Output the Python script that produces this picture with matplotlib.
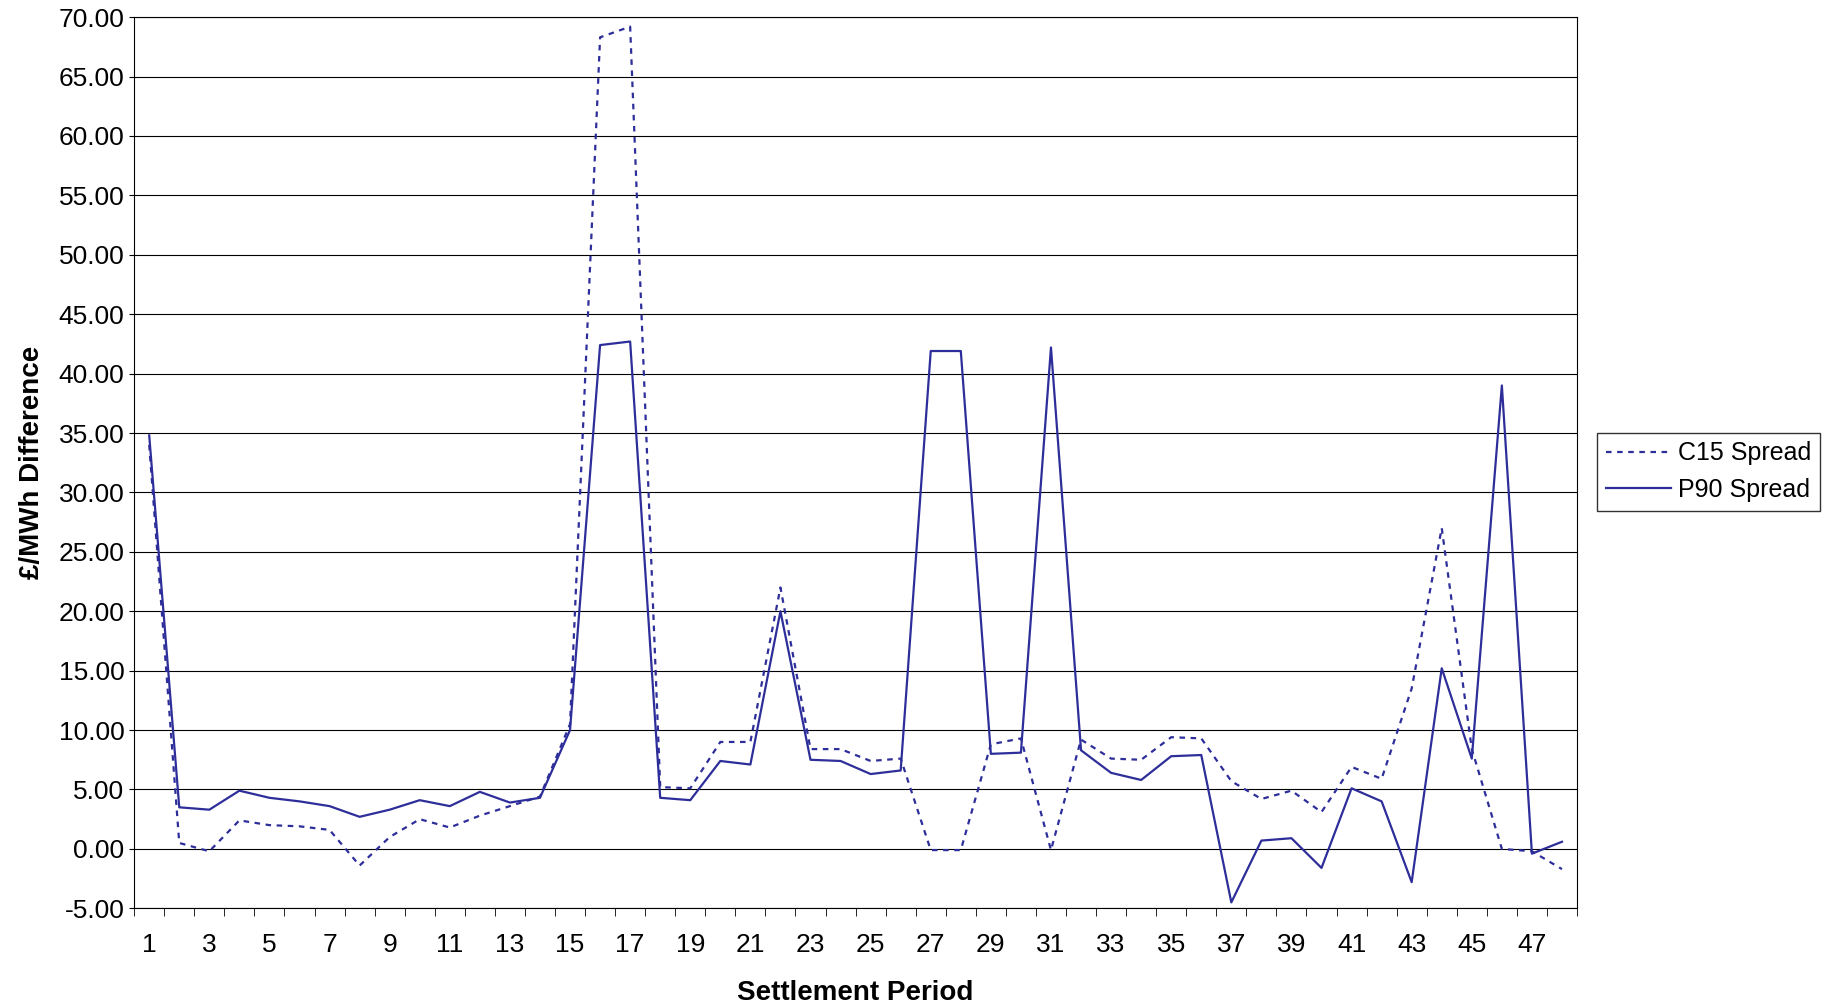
import matplotlib
matplotlib.use("Agg")
import matplotlib.pyplot as plt
import numpy as np

periods = list(range(1, 49))
c15 = [34.0, 0.5, -0.2, 2.4, 2.0, 1.9, 1.6, -1.4, 1.0, 2.5, 1.8, 2.8, 3.6, 4.4, 10.5, 68.3, 69.2, 5.2, 5.1, 9.0,
       9.0, 22.0, 8.4, 8.4, 7.4, 7.6, -0.1, -0.1, 8.8, 9.3, -0.1, 9.2, 7.6, 7.5, 9.4, 9.3, 5.7, 4.2, 4.9, 3.1,
       6.9, 5.9, 13.5, 27.0, 8.4, 0.0, -0.2, -1.7]
p90 = [34.8, 3.5, 3.3, 4.9, 4.3, 4.0, 3.6, 2.7, 3.3, 4.1, 3.6, 4.8, 3.9, 4.3, 10.0, 42.4, 42.7, 4.3, 4.1, 7.4,
       7.1, 20.0, 7.5, 7.4, 6.3, 6.6, 41.9, 41.9, 8.0, 8.1, 42.2, 8.3, 6.4, 5.8, 7.8, 7.9, -4.5, 0.7, 0.9, -1.6,
       5.1, 4.0, -2.8, 15.2, 7.6, 39.0, -0.4, 0.6]

col = "#2E2E9A"
F = "Liberation Sans"
fig = plt.figure(figsize=(18.38, 10.07), dpi=100)
ax = fig.add_axes([0.073, 0.098, 0.785, 0.885])
ax.plot(periods, c15, color=col, lw=1.6, ls=(0, (2.5, 2.5)), label="C15 Spread")
ax.plot(periods, p90, color=col, lw=1.6, label="P90 Spread")
ax.set_xlim(0.5, 48.5)
ax.set_ylim(-5, 70)
ax.set_yticks(np.arange(-5, 70.1, 5))
ax.set_yticklabels([f"{v:.2f}" for v in np.arange(-5, 70.1, 5)], fontsize=19, family=F)
ax.set_xticks(range(1, 49))
ax.set_xticklabels([str(p) if p % 2 == 1 else "" for p in periods], fontsize=19, family=F)
ax.set_xticks(np.arange(0.5, 49, 1), minor=True)
ax.tick_params(axis="x", which="major", length=0, pad=18)
ax.tick_params(axis="x", which="minor", length=6)
ax.grid(axis="y", color="black", lw=0.8)
for s in ax.spines.values():
    s.set_linewidth(0.8)
ax.set_xlabel("Settlement Period", fontsize=20, fontweight="bold", family=F, labelpad=16)
ax.set_ylabel("£/MWh Difference", fontsize=20, fontweight="bold", family=F, labelpad=10)
ax.legend(loc="center left", bbox_to_anchor=(1.014, 0.49), frameon=True,
          fancybox=False, edgecolor="black", handlelength=2.6, handletextpad=0.3,
          borderaxespad=0, borderpad=0.35, labelspacing=0.5,
          prop={"family": F, "size": 18})
plt.savefig("out.png")
